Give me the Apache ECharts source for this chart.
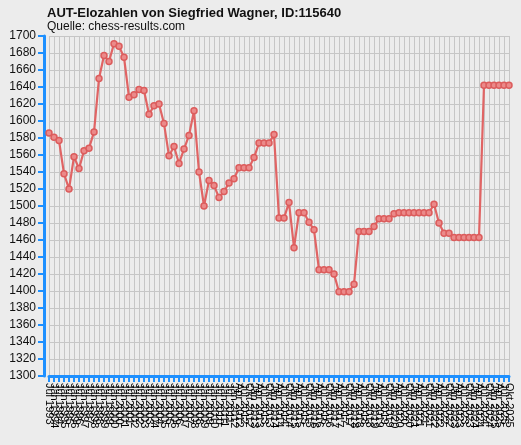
<!DOCTYPE html>
<html>
<head>
<meta charset="utf-8">
<script src="https://cdn.jsdelivr.net/npm/echarts@6/dist/echarts.min.js"></script>
<style>
html,body{margin:0;padding:0;background:#ececec;}
#chart{width:521px;height:445px;}
</style>
</head>
<body>
<div id="chart"></div>
<script>
// Listen (Monat Jahr)
var months = [
	'Jul 1993','Jän 1994','Jul 1994','Jän 1995','Jul 1995','Jän 1996','Jul 1996','Jän 1997','Jul 1997','Jän 1998',
	'Jul 1998','Jän 1999','Jul 1999','Jän 2000','Jul 2000','Jän 2001','Jul 2001','Jän 2002','Jul 2002','Jän 2003',
	'Jul 2003','Jän 2004','Jul 2004','Jän 2005','Jul 2005','Jän 2006','Jul 2006','Jän 2007','Jul 2007','Jän 2008',
	'Jul 2008','Jän 2009','Jul 2009','Jän 2010','Jul 2010','Jän 2011','Jul 2011','Jän 2012','Apr 2012','Jul 2012',
	'Okt 2012','Jän 2013','Apr 2013','Jul 2013','Okt 2013','Jän 2014','Apr 2014','Jul 2014','Okt 2014','Jän 2015',
	'Apr 2015','Jul 2015','Okt 2015','Jän 2016','Apr 2016','Jul 2016','Okt 2016','Jän 2017','Apr 2017','Jul 2017',
	'Okt 2017','Jän 2018','Apr 2018','Jul 2018','Okt 2018','Jän 2019','Apr 2019','Jul 2019','Okt 2019','Jän 2020',
	'Apr 2020','Jul 2020','Okt 2020','Jän 2021','Apr 2021','Jul 2021','Okt 2021','Jän 2022','Apr 2022','Jul 2022',
	'Okt 2022','Jän 2023','Apr 2023','Jul 2023','Okt 2023','Jän 2024','Apr 2024','Jul 2024','Okt 2024','Jän 2025',
	'Apr 2025','Jul 2025','Okt 2025'
];
var elo = [
	1586,1581,1577,1538,1520,1558,1544,1565,1568,1587,
	1650,1677,1670,1691,1688,1675,1628,1631,1637,1636,
	1608,1618,1620,1597,1559,1570,1550,1567,1583,1612,
	1540,1500,1530,1524,1510,1517,1527,1532,1545,1545,
	1545,1557,1574,1574,1574,1584,1486,1486,1504,1451,
	1492,1492,1481,1472,1425,1425,1425,1420,1399,1399,
	1399,1408,1470,1470,1470,1476,1485,1485,1485,1491,
	1492,1492,1492,1492,1492,1492,1492,1502,1480,1468,
	1468,1463,1463,1463,1463,1463,1463,1642,1642,1642,
	1642,1642,1642
];
var yMin = 1300, yMax = 1700, yStep = 20;

var blue = '#1e90ff';
var chart = echarts.init(document.getElementById('chart'));
var option = {
	backgroundColor: '#ececec',
	animation: false,
	textStyle: { fontFamily: 'Liberation Sans, Arial, sans-serif' },
	title: {
		text: 'AUT-Elozahlen von Siegfried Wagner, ID:115640',
		subtext: 'Quelle: chess-results.com',
		left: 42,
		top: 2,
		itemGap: 1,
		textStyle: { fontSize: 13, fontWeight: 'bold', color: '#111' },
		subtextStyle: { fontSize: 12, color: '#111' }
	},
	grid: { left: 49, right: 12, top: 36, bottom: 69 },
	xAxis: {
		type: 'category',
		data: months,
		boundaryGap: false,
		axisLine: { lineStyle: { color: blue, width: 3 } },
		axisTick: { interval: 0, length: 6, lineStyle: { color: blue, width: 2 } },
		axisLabel: { interval: 0, rotate: -90, margin: 7, fontSize: 11, color: '#000' },
		splitLine: { show: true, interval: 0, lineStyle: { color: '#c6c6c6', width: 1 } }
	},
	yAxis: {
		type: 'value',
		min: yMin,
		max: yMax,
		interval: yStep,
		offset: 5,
		axisLine: { show: true, lineStyle: { color: blue, width: 3 } },
		axisTick: { show: true, length: 6, lineStyle: { color: blue, width: 2 } },
		axisLabel: {
			fontSize: 12, color: '#111', margin: 8,
			formatter: function(v) { return String(v); }
		},
		splitLine: { lineStyle: { color: '#c6c6c6', width: 1 } }
	},
	series: [{
		name: 'Elo',
		type: 'line',
		data: elo,
		symbol: 'circle',
		symbolSize: 6,
		lineStyle: { color: '#e06464', width: 2.2 },
		itemStyle: { color: '#eb8a8a', borderColor: '#dc5c5c', borderWidth: 1.5 }
	}]
};
chart.setOption(option);
</script>
</body>
</html>
